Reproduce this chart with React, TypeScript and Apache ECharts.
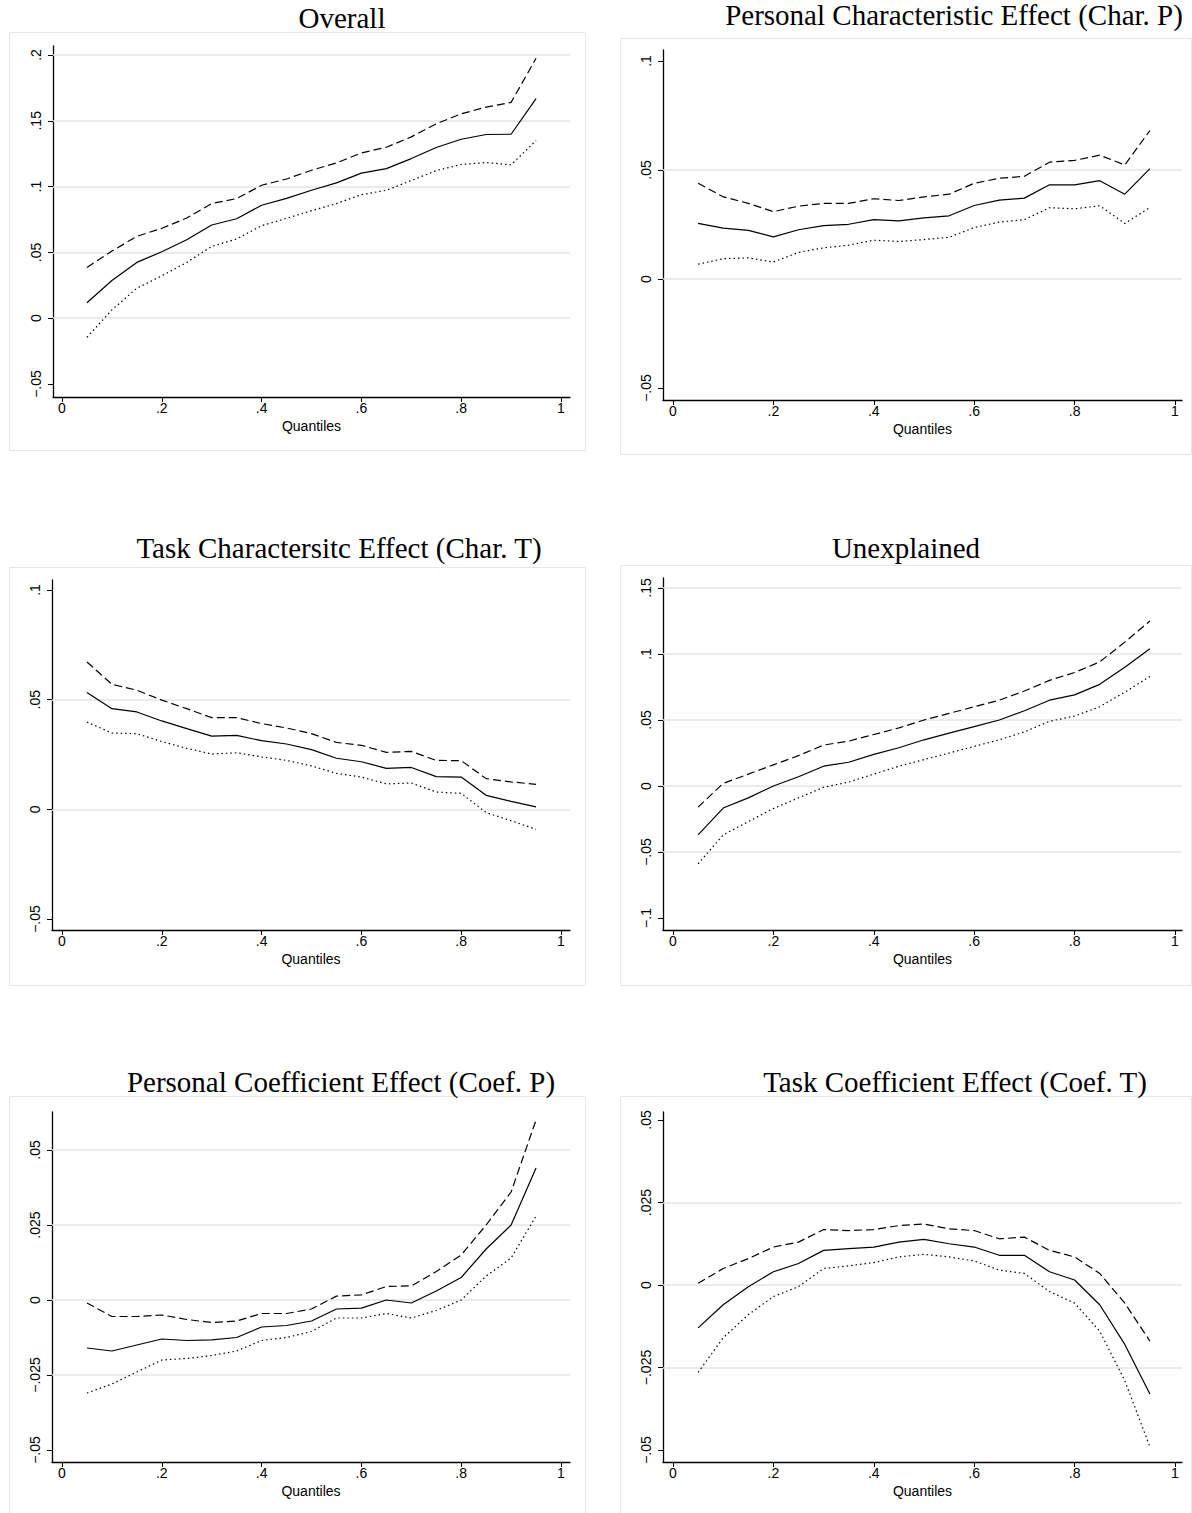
import React, { useEffect, useRef } from "react";
import * as echarts from "echarts";

// ---------- DATA ----------
const quantiles = [0.05, 0.1, 0.15, 0.2, 0.25, 0.3, 0.35, 0.4, 0.45, 0.5, 0.55, 0.6, 0.65, 0.7, 0.75, 0.8, 0.85, 0.9, 0.95];

const overallEst = [0.0117, 0.0287, 0.0424, 0.0505, 0.0596, 0.0708, 0.0756, 0.0858, 0.0911, 0.0972, 0.1028, 0.1102, 0.1137, 0.1213, 0.1297, 0.136, 0.1396, 0.1398, 0.1668];
const overallUpper = [0.0386, 0.051, 0.0622, 0.0683, 0.0761, 0.0871, 0.0909, 0.101, 0.1058, 0.1124, 0.118, 0.1256, 0.1299, 0.1378, 0.1477, 0.1553, 0.1604, 0.164, 0.1975];
const overallLower = [-0.0145, 0.0063, 0.0228, 0.0322, 0.0424, 0.0546, 0.0602, 0.0703, 0.0759, 0.0817, 0.0871, 0.0939, 0.0972, 0.1046, 0.1122, 0.1168, 0.1183, 0.1165, 0.135];

const charPEst = [0.0255, 0.0233, 0.0223, 0.0193, 0.0226, 0.0245, 0.0251, 0.0272, 0.0267, 0.028, 0.029, 0.0337, 0.0362, 0.0371, 0.0432, 0.0432, 0.0451, 0.0389, 0.0506];
const charPUpper = [0.0439, 0.0377, 0.0347, 0.0309, 0.0334, 0.0347, 0.0347, 0.0368, 0.036, 0.0377, 0.0389, 0.0439, 0.0462, 0.0471, 0.0536, 0.0544, 0.0568, 0.0523, 0.0681];
const charPLower = [0.0068, 0.0093, 0.0097, 0.0078, 0.0122, 0.0143, 0.0155, 0.0178, 0.0172, 0.0181, 0.0191, 0.0236, 0.0261, 0.0272, 0.0327, 0.0322, 0.0336, 0.0255, 0.0328];

const charTEst = [0.0533, 0.0459, 0.0444, 0.0403, 0.0368, 0.0334, 0.0337, 0.0313, 0.0298, 0.0272, 0.0233, 0.0217, 0.0187, 0.0191, 0.0149, 0.0147, 0.0064, 0.0036, 0.0011];
const charTUpper = [0.0672, 0.057, 0.0543, 0.0498, 0.0459, 0.0418, 0.0418, 0.0391, 0.0371, 0.0345, 0.0305, 0.0292, 0.026, 0.0264, 0.0223, 0.0222, 0.014, 0.0125, 0.0114];
const charTLower = [0.0398, 0.0348, 0.0345, 0.0309, 0.0278, 0.0252, 0.0258, 0.0239, 0.0223, 0.0198, 0.0164, 0.0147, 0.0116, 0.012, 0.0079, 0.0073, -0.0015, -0.0052, -0.0091];

const unexplEst = [-0.037, -0.0167, -0.009, 0.0, 0.007, 0.015, 0.018, 0.024, 0.029, 0.035, 0.04, 0.045, 0.05, 0.057, 0.065, 0.069, 0.077, 0.09, 0.104];
const unexplUpper = [-0.016, 0.002, 0.009, 0.016, 0.023, 0.031, 0.034, 0.039, 0.044, 0.05, 0.055, 0.06, 0.065, 0.072, 0.08, 0.086, 0.094, 0.109, 0.125];
const unexplLower = [-0.059, -0.037, -0.027, -0.017, -0.009, -0.001, 0.003, 0.009, 0.015, 0.02, 0.025, 0.03, 0.035, 0.041, 0.049, 0.053, 0.06, 0.071, 0.083];

const coefPEst = [-0.016, -0.017, -0.015, -0.013, -0.0135, -0.0133, -0.0125, -0.009, -0.0085, -0.007, -0.003, -0.0027, 0.0, -0.001, 0.003, 0.0075, 0.017, 0.025, 0.044];
const coefPUpper = [-0.001, -0.0055, -0.0055, -0.005, -0.0065, -0.0075, -0.007, -0.0045, -0.0045, -0.003, 0.0013, 0.0017, 0.0045, 0.0047, 0.0095, 0.015, 0.025, 0.036, 0.06];
const coefPLower = [-0.031, -0.028, -0.024, -0.02, -0.0195, -0.0185, -0.017, -0.0135, -0.0125, -0.0105, -0.006, -0.006, -0.0045, -0.006, -0.0035, 0.0, 0.008, 0.014, 0.028];

const coefTEst = [-0.013, -0.006, -0.0005, 0.004, 0.0065, 0.0105, 0.011, 0.0115, 0.013, 0.0138, 0.0125, 0.0115, 0.009, 0.009, 0.004, 0.0015, -0.006, -0.018, -0.033];
const coefTUpper = [0.0005, 0.005, 0.008, 0.0115, 0.013, 0.0168, 0.0165, 0.0168, 0.018, 0.0185, 0.017, 0.0165, 0.014, 0.0145, 0.0105, 0.0085, 0.0035, -0.0055, -0.017];
const coefTLower = [-0.0265, -0.016, -0.009, -0.0035, -0.0005, 0.005, 0.0058, 0.0068, 0.0085, 0.0093, 0.0085, 0.0073, 0.0045, 0.0035, -0.002, -0.0055, -0.014, -0.029, -0.049];

const xTicks = [0, 0.2, 0.4, 0.6, 0.8, 1];
const overallTicks = [-0.05, 0, 0.05, 0.1, 0.15, 0.2];
const charPTicks = [-0.05, 0, 0.05, 0.1];
const charTTicks = [-0.05, 0, 0.05, 0.1];
const unexplTicks = [-0.1, -0.05, 0, 0.05, 0.1, 0.15];
const coefPTicks = [-0.05, -0.025, 0, 0.025, 0.05];
const coefTTicks = [-0.05, -0.025, 0, 0.025, 0.05];

const overallGridVals = [0, 0.05, 0.1, 0.15, 0.2];
const charPGridVals = [0, 0.05];
const charTGridVals = [0, 0.05];
const unexplGridVals = [-0.05, 0, 0.05, 0.1, 0.15];
const coefPGridVals = [-0.025, 0, 0.025, 0.05];
const coefTGridVals = [-0.025, 0, 0.025];

const titles = [
  "Overall",
  "Personal Characteristic Effect (Char. P)",
  "Task Charactersitc Effect (Char. T)",
  "Unexplained",
  "Personal Coefficient Effect (Coef. P)",
  "Task Coefficient Effect (Coef. T)",
];
const xAxisName = "Quantiles";

// ---------- LAYOUT (pixels) ----------
const panels = [
  { est: overallEst, up: overallUpper, lo: overallLower, ticks: overallTicks, grid: overallGridVals,
    title: { x: 342, y: 18 }, frame: { x: 9, y: 32, w: 576, h: 418 },
    box: { l: 53, r: 570, t: 46, b: 397 }, xm: { p0: 62, p1: 561 }, ym: { va: 0.2, pa: 55, vb: -0.05, pb: 384 } },
  { est: charPEst, up: charPUpper, lo: charPLower, ticks: charPTicks, grid: charPGridVals,
    title: { x: 954, y: 15 }, frame: { x: 620, y: 38, w: 571, h: 416 },
    box: { l: 663, r: 1182, t: 50, b: 400 }, xm: { p0: 673, p1: 1175 }, ym: { va: 0.1, pa: 61, vb: -0.05, pb: 388 } },
  { est: charTEst, up: charTUpper, lo: charTLower, ticks: charTTicks, grid: charTGridVals,
    title: { x: 339, y: 548 }, frame: { x: 9, y: 567, w: 576, h: 418 },
    box: { l: 52, r: 570, t: 580, b: 930 }, xm: { p0: 62, p1: 561 }, ym: { va: 0.1, pa: 590, vb: -0.05, pb: 919 } },
  { est: unexplEst, up: unexplUpper, lo: unexplLower, ticks: unexplTicks, grid: unexplGridVals,
    title: { x: 906, y: 548 }, frame: { x: 620, y: 565, w: 571, h: 420 },
    box: { l: 663, r: 1182, t: 578, b: 930 }, xm: { p0: 673, p1: 1175 }, ym: { va: 0.15, pa: 588, vb: -0.1, pb: 918 } },
  { est: coefPEst, up: coefPUpper, lo: coefPLower, ticks: coefPTicks, grid: coefPGridVals,
    title: { x: 341, y: 1082 }, frame: { x: 9, y: 1096, w: 576, h: 420 },
    box: { l: 52, r: 570, t: 1112, b: 1462 }, xm: { p0: 62, p1: 561 }, ym: { va: 0.05, pa: 1150, vb: -0.05, pb: 1450 } },
  { est: coefTEst, up: coefTUpper, lo: coefTLower, ticks: coefTTicks, grid: coefTGridVals,
    title: { x: 955, y: 1082 }, frame: { x: 620, y: 1096, w: 571, h: 420 },
    box: { l: 663, r: 1182, t: 1112, b: 1462 }, xm: { p0: 673, p1: 1175 }, ym: { va: 0.05, pa: 1120, vb: -0.05, pb: 1450 } },
];

const W = 1192;
const H = 1513;

function fmt(v: number): string {
  if (Math.abs(v) < 1e-9) return "0";
  let s = String(Math.round(v * 10000) / 10000);
  s = s.replace("0.", ".");
  s = s.replace("-", "\u2212");
  return s;
}

function buildOption() {
  const grids: any[] = [];
  const xAxes: any[] = [];
  const yAxes: any[] = [];
  const series: any[] = [];
  const graphics: any[] = [];

  panels.forEach((p, i) => {
    const t = titles[i];
    grids.push({ left: p.box.l, top: p.box.t, width: p.box.r - p.box.l, height: p.box.b - p.box.t, containLabel: false });
    const xv = (px: number) => (px - p.xm.p0) / (p.xm.p1 - p.xm.p0);
    const yv = (py: number) => p.ym.va + ((py - p.ym.pa) * (p.ym.vb - p.ym.va)) / (p.ym.pb - p.ym.pa);
    xAxes.push({
      gridIndex: i, type: "value", min: xv(p.box.l), max: xv(p.box.r),
      name: xAxisName, nameLocation: "middle", nameGap: 22,
      nameTextStyle: { fontFamily: "Liberation Sans", fontSize: 14, color: "#000" },
      axisLine: { show: true, onZero: false, lineStyle: { color: "#000", width: 1.3 } },
      axisTick: { show: true, length: 5, customValues: xTicks, lineStyle: { color: "#000", width: 1 } },
      axisLabel: { customValues: xTicks, formatter: (v: number) => fmt(v), fontFamily: "Liberation Sans", fontSize: 14, color: "#000", margin: 4 },
      splitLine: { show: false },
    });
    yAxes.push({
      gridIndex: i, type: "value", min: yv(p.box.b), max: yv(p.box.t),
      axisLine: { show: true, onZero: false, lineStyle: { color: "#000", width: 1.3 } },
      axisTick: { show: true, length: 5, customValues: p.ticks, lineStyle: { color: "#000", width: 1 } },
      axisLabel: { customValues: p.ticks, formatter: (v: number) => fmt(v), rotate: 90, fontFamily: "Liberation Sans", fontSize: 14, color: "#000", margin: 10 },
      splitLine: { show: false },
    });
    const mk = (arr: number[]) => quantiles.map((q, k) => [q, arr[k]]);
    series.push({
      type: "line", xAxisIndex: i, yAxisIndex: i, data: mk(p.lo), showSymbol: false, symbol: "none",
      lineStyle: { color: "#000", width: 1.2, type: [1.5, 3] }, z: 3,
      markLine: {
        silent: true, symbol: ["none", "none"], z: 1, animation: false, precision: 6,
        label: { show: false },
        lineStyle: { color: "#e4e4e4", width: 1.5, type: "solid" },
        data: p.grid.map((v) => ({ yAxis: v })),
      },
    });
    series.push({
      type: "line", xAxisIndex: i, yAxisIndex: i, data: mk(p.up), showSymbol: false, symbol: "none",
      lineStyle: { color: "#000", width: 1.2, type: [8, 4] }, z: 3,
    });
    series.push({
      type: "line", xAxisIndex: i, yAxisIndex: i, data: mk(p.est), showSymbol: false, symbol: "none",
      lineStyle: { color: "#000", width: 1.2, type: "solid" }, z: 3,
    });
    graphics.push({
      type: "rect", z: -1, silent: true,
      shape: { x: p.frame.x + 0.5, y: p.frame.y + 0.5, width: p.frame.w, height: p.frame.h },
      style: { fill: "none", stroke: "#e6e6e6", lineWidth: 1 },
    });
    graphics.push({
      type: "text", x: p.title.x, y: p.title.y, silent: true,
      style: { text: t, fill: "#000", font: "29px 'Liberation Serif'", align: "center", verticalAlign: "middle" },
    });
  });

  return {
    animation: false,
    backgroundColor: "#fff",
    grid: grids,
    xAxis: xAxes,
    yAxis: yAxes,
    series,
    graphic: { elements: graphics },
  };
}

export default function App() {
  const ref = useRef<HTMLDivElement>(null);
  useEffect(() => {
    if (!ref.current) return;
    const chart = echarts.init(ref.current, undefined, { renderer: "svg" });
    chart.setOption(buildOption());
    return () => chart.dispose();
  }, []);
  return <div ref={ref} style={{ position: "absolute", left: 0, top: 0, width: W, height: H }} />;
}
